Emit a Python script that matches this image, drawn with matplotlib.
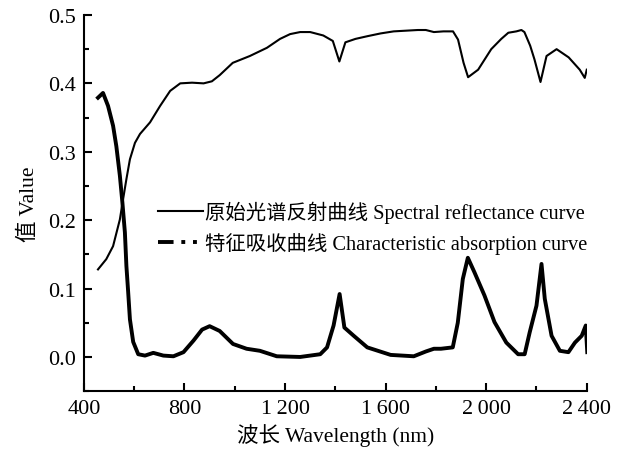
import matplotlib
matplotlib.use("Agg")
import matplotlib.pyplot as plt
from matplotlib.lines import Line2D
from matplotlib.ticker import MultipleLocator, FuncFormatter

plt.rcParams['font.family'] = ['Liberation Serif', 'Noto Sans CJK SC']

# Spectral reflectance curve
refl_wl = [456, 489, 516, 543, 556, 569, 583, 603, 623, 663, 703, 743, 783, 830, 876, 909, 940, 992,
           1060, 1128, 1180, 1220, 1260, 1300, 1352, 1390, 1416, 1440, 1480, 1528, 1580, 1632, 1680,
           1728, 1760, 1792, 1830, 1868, 1888, 1910, 1928, 1968, 2020, 2060, 2088, 2120, 2140, 2152,
           2175, 2192, 2216, 2240, 2280, 2328, 2372, 2392, 2400]
refl_val = [0.128, 0.143, 0.162, 0.201, 0.231, 0.260, 0.289, 0.313, 0.326, 0.343, 0.367, 0.389,
            0.400, 0.401, 0.400, 0.403, 0.412, 0.430, 0.440, 0.452, 0.465, 0.472, 0.475, 0.475,
            0.470, 0.462, 0.432, 0.460, 0.465, 0.469, 0.473, 0.476, 0.477, 0.478, 0.478, 0.475,
            0.476, 0.476, 0.464, 0.430, 0.409, 0.420, 0.450, 0.465, 0.474, 0.476, 0.478, 0.475,
            0.455, 0.435, 0.402, 0.440, 0.450, 0.438, 0.420, 0.408, 0.420]

# Characteristic absorption curve
abs_wl = [456, 476, 496, 516, 529, 543, 553, 563, 569, 576, 583, 596, 616, 643, 676, 716, 756, 796,
          836, 870, 900, 940, 993, 1047, 1100, 1167, 1260, 1340, 1367, 1393, 1417, 1436, 1473, 1527,
          1620, 1712, 1760, 1792, 1820, 1867, 1887, 1907, 1927, 1953, 1993, 2033, 2080, 2127, 2153,
          2173, 2200, 2220, 2233, 2260, 2293, 2327, 2353, 2380, 2396, 2402]
abs_val = [0.379, 0.386, 0.367, 0.338, 0.308, 0.265, 0.226, 0.182, 0.133, 0.095, 0.055, 0.022,
           0.004, 0.002, 0.006, 0.002, 0.001, 0.007, 0.024, 0.040, 0.045, 0.038, 0.019, 0.012,
           0.009, 0.001, 0.000, 0.004, 0.014, 0.046, 0.092, 0.043, 0.031, 0.014, 0.003, 0.001,
           0.008, 0.012, 0.012, 0.014, 0.050, 0.114, 0.145, 0.124, 0.090, 0.051, 0.021, 0.004,
           0.004, 0.036, 0.075, 0.136, 0.085, 0.031, 0.009, 0.007, 0.021, 0.031, 0.046, 0.007]

labels = ['原始光谱反射曲线 Spectral reflectance curve',
          '特征吸收曲线 Characteristic absorption curve']
xticks = [400, 800, 1200, 1600, 2000, 2400]
yticks = [0.0, 0.1, 0.2, 0.3, 0.4, 0.5]

fig = plt.figure(figsize=(6.17, 4.56), dpi=100)
ax = fig.add_axes([0.136, 0.140, 0.815, 0.825])

ax.plot(refl_wl, refl_val, color='black', lw=1.5)
ax.plot(abs_wl, abs_val, color='black', lw=2.8, solid_joinstyle='round')

ax.set_xlim(400, 2400)
ax.set_ylim(-0.05, 0.5)
ax.set_xticks(xticks)
ax.set_yticks(yticks)
ax.xaxis.set_minor_locator(MultipleLocator(200))
ax.yaxis.set_minor_locator(MultipleLocator(0.05))
ax.xaxis.set_major_formatter(FuncFormatter(lambda v, p: f"{int(v):,}".replace(',', '\u2009') if v >= 1000 else f"{int(v)}"))
ax.yaxis.set_major_formatter(FuncFormatter(lambda v, p: f"{v:.1f}"))

for s in ['top', 'right']:
    ax.spines[s].set_visible(False)
for s in ['left', 'bottom']:
    ax.spines[s].set_linewidth(1.5)
ax.tick_params(which='both', direction='in', width=1.5, labelsize=16, pad=6)
ax.tick_params(which='major', length=6)
ax.tick_params(which='minor', length=3.5)

ax.set_xlabel('波长 Wavelength (nm)', fontsize=15.5, labelpad=3)
ax.set_ylabel('值 Value', fontsize=15.5, labelpad=6)

handles = [Line2D([], [], color='black', lw=1.5),
           Line2D([], [], color='black', lw=2.8, linestyle=(0, (4, 2, 1, 2, 1, 2)))]
ax.legend(handles, labels, loc='upper left', bbox_to_anchor=(0.147, 0.507), frameon=False,
          fontsize=14.7, handlelength=2.2, handletextpad=0.1, borderpad=0, borderaxespad=0,
          labelspacing=0.45)

fig.savefig('out.png', dpi=100)
